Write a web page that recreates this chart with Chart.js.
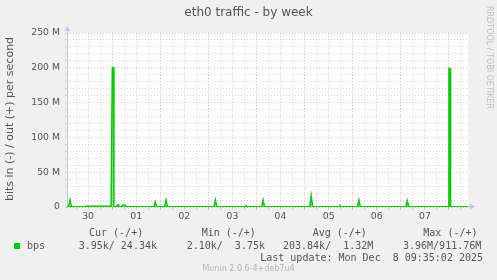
<!DOCTYPE html>
<html>
<head>
<meta charset="utf-8">
<script src="https://cdn.jsdelivr.net/npm/chart.js@4.4.1/dist/chart.umd.min.js"></script>
<style>
  html, body { margin: 0; padding: 0; background: #f0f0f0; }
  #wrap { width: 497px; height: 280px; }
</style>
</head>
<body>
<div id="wrap"><canvas id="traffic" width="497" height="280"></canvas></div>
<script>
// day labels sit at noon of each day, hours counted from Nov 30 00:00
const dayLabels = ['30', '01', '02', '03', '04', '05', '06', '07'];

// out traffic (Mbit/s), x in hours
const hours = [1.5, 2.3, 3.0, 3.7, 10.5, 11, 22.5, 23.5, 23.9, 24.1, 24.7, 24.9,
  26.2, 26.6, 27.2, 27.6, 28.7, 29.2, 30.6, 31, 44.8, 45.5, 46.2, 50.2, 50.9, 51.6,
  65.5, 66.5, 67.2, 74.8, 75.5, 76.2, 90.3, 90.8, 91.3, 98.6, 99.3, 100,
  122.6, 123.3, 124, 137.2, 137.7, 138.2, 146.4, 147.1, 147.8, 170.5, 171.2, 171.9,
  191.8, 192.0, 192.6, 192.8, 201.5];
const outMbps = [0.3, 0.3, 10, 0.3, 0.3, 1.2, 1.2, 0.5, 0.5, 200, 200, 0.5,
  0.5, 3, 3, 0.5, 0.5, 2.5, 2.5, 0.3, 0.3, 7, 0.3, 0.3, 10, 0.3,
  0.3, 0, 0.3, 0.3, 10, 0.3, 0.3, 2, 0.3, 0.3, 10, 0.3,
  0.3, 16, 0.3, 0.3, 2, 0.3, 0.3, 10, 0.3, 0.3, 9, 0.3,
  0.3, 199, 199, 0.3, 0.3];

const yMax = 250;
const legendHeads = ['Cur (-/+)', 'Min (-/+)', 'Avg (-/+)', 'Max (-/+)'];
const legendVals = ['3.95k/ 24.34k', '2.10k/  3.75k', '203.84k/  1.32M', '3.96M/911.76M'];
const lastUpdate = 'Last update: Mon Dec  8 09:35:02 2025';

const gridGrey = 'rgba(150,150,150,0.38)';
const gridRed = 'rgba(255,60,60,0.4)';
const axisCol = '#c4c4f4';

const munin = {
  id: 'munin',
  beforeDraw(chart) {
    const c = chart.ctx, a = chart.chartArea;
    c.save();
    c.fillStyle = '#f0f0f0';
    c.fillRect(0, 0, chart.width, chart.height);
    c.fillStyle = '#ffffff';
    c.fillRect(a.left, a.top, a.right - a.left, a.bottom - a.top);
    c.restore();
  },
  beforeDatasetsDraw(chart) {
    const c = chart.ctx, a = chart.chartArea;
    c.save();
    c.strokeStyle = axisCol;
    c.fillStyle = axisCol;
    c.lineWidth = 1;
    c.beginPath();
    c.moveTo(a.left + 0.5, a.bottom);
    c.lineTo(a.left + 0.5, a.top - 4);
    c.moveTo(a.left, a.bottom - 0.5);
    c.lineTo(a.right + 4, a.bottom - 0.5);
    c.stroke();
    // arrows
    c.beginPath();
    c.moveTo(a.left + 0.5, a.top - 7);
    c.lineTo(a.left - 2.5, a.top - 2);
    c.lineTo(a.left + 3.5, a.top - 2);
    c.fill();
    c.beginPath();
    c.moveTo(a.right + 7, a.bottom - 0.5);
    c.lineTo(a.right + 2, a.bottom - 3.5);
    c.lineTo(a.right + 2, a.bottom + 2.5);
    c.fill();
    c.restore();
  },
  afterDraw(chart) {
    const c = chart.ctx;
    c.save();
    c.fillStyle = '#555555';
    c.textBaseline = 'middle';
    c.font = '12px "DejaVu Sans"';
    c.textAlign = 'center';
    c.fillText('eth0 traffic - by week', 248.5, 13);

    c.save();
    c.translate(10, 119);
    c.rotate(-Math.PI / 2);
    c.font = '11px "DejaVu Sans"';
    c.fillText('bits in (-) / out (+) per second', 0, 0);
    c.restore();

    c.save();
    c.translate(489, 6);
    c.rotate(Math.PI / 2);
    c.textAlign = 'left';
    c.fillStyle = '#c0c0c0';
    c.font = '8px "DejaVu Sans"';
    c.fillText('RRDTOOL / TOBI OETIKER', 0, 0);
    c.restore();

    // legend block
    c.textAlign = 'left';
    c.font = '10px "DejaVu Sans Mono"';
    const headX = [89, 201.7, 312.7, 423.3];
    const valX = [78.7, 186.7, 283, 403];
    legendHeads.forEach((t, i) => c.fillText(t, headX[i], 233));
    legendVals.forEach((t, i) => c.fillText(t, valX[i], 246));
    c.fillText('bps', 27, 246);
    c.fillStyle = '#00cc00';
    c.fillRect(14, 243, 6, 6);
    c.fillStyle = '#555555';
    c.textAlign = 'right';
    c.fillText(lastUpdate, 483, 258);

    c.textAlign = 'center';
    c.fillStyle = '#b4b4b4';
    c.font = '8px "DejaVu Sans"';
    c.fillText('Munin 2.0.6-4+deb7u4', 248.5, 269);
    c.restore();
  }
};

new Chart(document.getElementById('traffic'), {
  type: 'line',
  data: {
    datasets: [{
      label: 'bps',
      data: hours.map((h, i) => ({ x: h, y: outMbps[i] })),
      borderColor: '#00cc00',
      backgroundColor: 'rgba(0,204,0,0.35)',
      borderWidth: 1.5,
      fill: 'origin',
      pointRadius: 0,
      tension: 0
    }]
  },
  options: {
    responsive: false,
    animation: false,
    events: [],
    layout: { padding: { left: 0, top: 33, right: 29, bottom: 55 } },
    plugins: { legend: { display: false }, title: { display: false }, tooltip: { enabled: false } },
    scales: {
      x: {
        type: 'linear',
        min: 1.5,
        max: 201.5,
        afterBuildTicks(scale) {
          const t = [];
          for (let h = 6; h <= 198; h += 6) t.push({ value: h });
          scale.ticks = t;
        },
        afterFit(scale) { scale.height = 18; },
        grid: {
          color: ctx => (ctx.tick && ctx.tick.value % 24 === 0) ? gridRed : gridGrey,
          tickLength: 3,
          tickColor: ctx => (ctx.tick && ctx.tick.value % 24 === 0) ? gridRed : gridGrey
        },
        border: { display: false, dash: [1, 2] },
        ticks: {
          autoSkip: false,
          maxRotation: 0,
          padding: 1,
          color: '#555555',
          font: { family: 'DejaVu Sans', size: 9.3 },
          callback: v => (v % 24 === 12) ? dayLabels[(v - 12) / 24] : ''
        }
      },
      y: {
        min: 0,
        max: yMax,
        afterFit(scale) { scale.width = 67; },
        grid: {
          color: ctx => (ctx.tick && ctx.tick.value % 50 === 0) ? gridRed : gridGrey,
          tickLength: 2,
          tickColor: gridGrey
        },
        border: { display: false, dash: [1, 2] },
        ticks: {
          stepSize: 10,
          autoSkip: false,
          padding: 5,
          color: '#555555',
          font: { family: 'DejaVu Sans', size: 9.3 },
          callback: v => v === 0 ? '0' : (v % 50 === 0 ? v + ' M' : '')
        }
      }
    }
  },
  plugins: [munin]
});
</script>
</body>
</html>
